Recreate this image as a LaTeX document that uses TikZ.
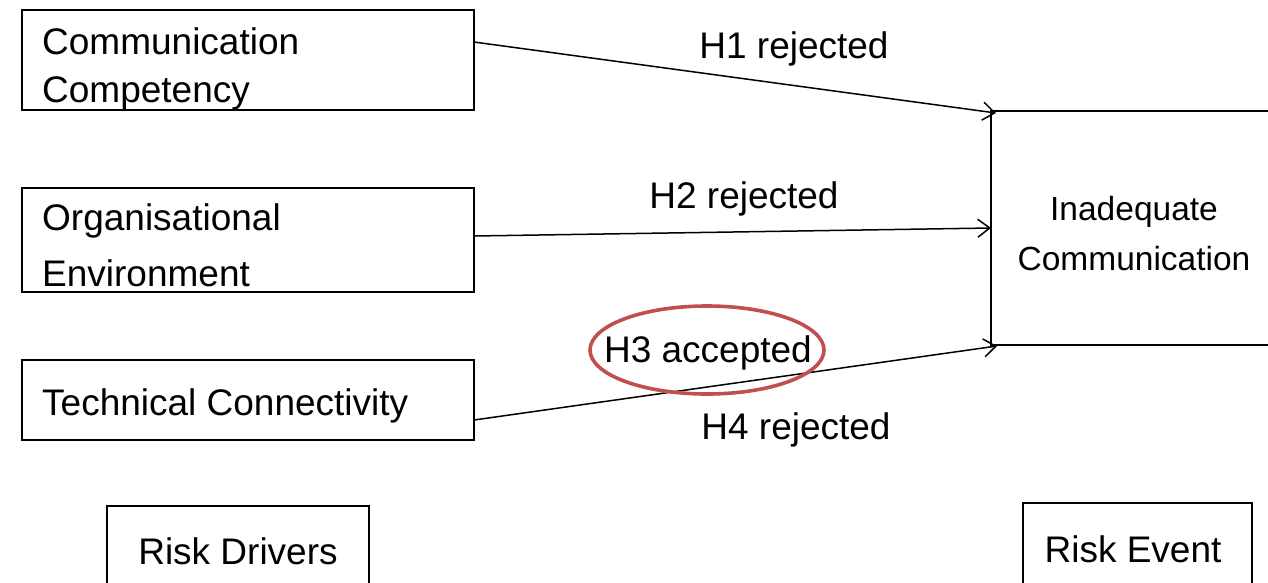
\documentclass[tikz,border=0pt]{standalone}
\usepackage{fontspec}
\setmainfont{Liberation Sans}
\usetikzlibrary{arrows.meta}
\definecolor{ovalred}{HTML}{C0504D}
\tikzset{
  lbl/.style={font=\fontsize{37}{52}\selectfont, inner sep=0pt},
  conn/.style={line width=1.5pt, -{Straight Barb[length=12pt,width=18pt,line width=1.5pt]}},
  txt/.style={inner sep=0pt, anchor=west, font=\fontsize{37}{52}\selectfont},
  frame/.style={line width=1.9pt}
}
\begin{document}
\begin{tikzpicture}[x=1pt,y=-1pt]
\useasboundingbox (0,0) rectangle (1268,582);
\clip (0,0) rectangle (1268,582);
% left boxes
\draw[frame] (22,10) rectangle (474,110);
\node[txt] (cc1) at (42,41) {Communication};
\node[txt] (cc2) at (42,93) {Competency};
\coordinate (b1) at (474,42);
\draw[frame] (22,188) rectangle (474,292);
\node[txt] (oe1) at (42,221) {Organisational};
\node[txt] (oe2) at (42,273) {Environment};
\coordinate (b2) at (474,236);
\draw[frame] (22,360) rectangle (474,440);
\node[txt] (tc) at (42,406) {Technical Connectivity};
\coordinate (b3) at (474,420);
% right box (open on right)
\draw[frame] (1270,111) -- (991,111) -- (991,345) -- (1270,345);
\node[inner sep=0pt, align=center, font=\fontsize{33.5}{50}\selectfont] (ic) at (1134,234) {Inadequate\\Communication};
\coordinate (t1) at (996,113);
\coordinate (t2) at (991,228);
\coordinate (t3) at (997,346);
% connectors
\draw[conn] (b1) -- (t1);
\draw[conn] (b2) -- (t2);
\draw[conn] (b3) -- (t3);
% labels
\node[lbl] (h1) at (794,49) {H1 rejected};
\node[lbl] (h2) at (744,199) {H2 rejected};
\node[lbl] (h3) at (708,353) {H3 accepted};
\node[lbl] (h4) at (796,430) {H4 rejected};
\draw[ovalred, line width=3.6pt] (707,350) ellipse [x radius=117, y radius=44];
% bottom boxes
\draw[frame] (107,600) -- (107,506) -- (369,506) -- (369,600);
\node[lbl] (rd) at (238,551) {Risk Drivers};
\draw[frame] (1023,600) -- (1023,503) -- (1252,503) -- (1252,600);
\node[lbl] (re) at (1133,549) {Risk Event};
\end{tikzpicture}
\end{document}
